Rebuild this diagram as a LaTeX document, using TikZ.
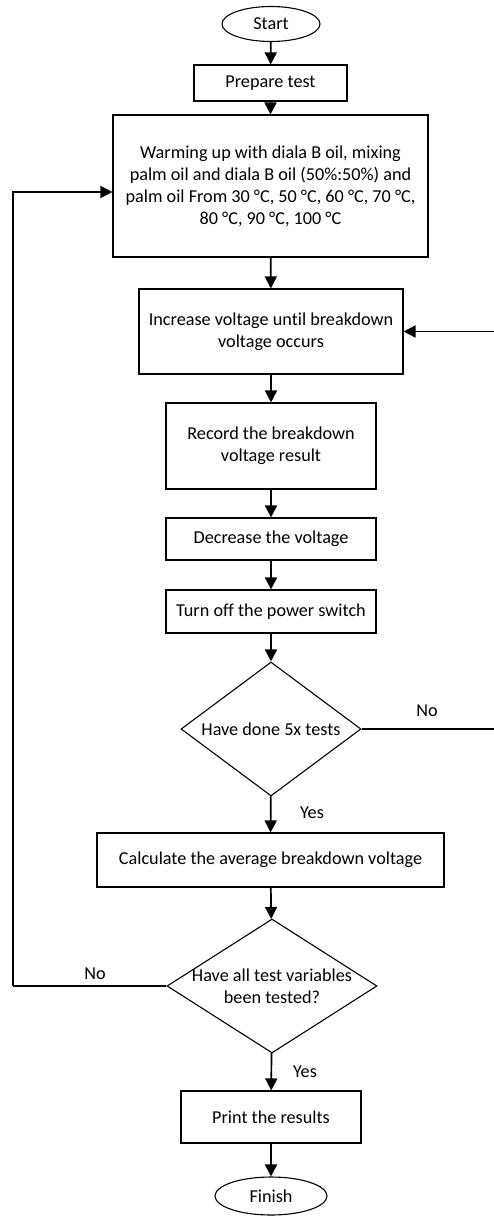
\documentclass[tikz,border=0pt]{standalone}
\usepackage{fontspec}
\setmainfont{Carlito}[Ligatures=NoCommon]
\usetikzlibrary{shapes,shapes.geometric,arrows.meta,calc}

\begin{document}
\begin{tikzpicture}[x=1pt,y=-1pt]
	\tikzstyle{every node}=[font=\fontsize{18.2}{22}\selectfont]
	\tikzstyle{proc}=[rectangle, draw, line width=1.1pt, align=center, inner sep=0pt]
	\tikzstyle{term}=[ellipse, draw, line width=1.1pt, inner sep=0pt]
	\tikzstyle{decide}=[diamond, aspect=1.34, draw, line width=1.1pt, align=center, inner sep=0pt]
	\tikzstyle{flow}=[line width=1.7pt, -{Triangle[length=12pt,width=12pt]}]
	\tikzstyle{plain}=[line width=1.3pt]
	\useasboundingbox (0,0) rectangle (493,1217);
	\node[term, minimum width=98pt, minimum height=35pt] (start) at (271,24) {Start};
	\node[proc, minimum width=153pt, minimum height=36pt] (prep) at (270.5,83) {Prepare test};
	\node[proc, minimum width=315pt, minimum height=142pt] (warm) at (270.5,186) {Warming up with diala B oil, mixing\\ palm oil and diala B oil (50\%:50\%) and\\ palm oil From 30 °C, 50 °C, 60 °C, 70 °C,\\ 80 °C, 90 °C, 100 °C};
	\node[proc, minimum width=264pt, minimum height=85pt] (incr) at (271,331.5) {Increase voltage until breakdown\\ voltage occurs};
	\node[proc, minimum width=210pt, minimum height=86pt] (rec) at (271,446) {Record the breakdown\\ voltage result};
	\node[proc, minimum width=210pt, minimum height=42pt] (decr) at (271,539) {Decrease the voltage};
	\node[proc, minimum width=210pt, minimum height=43pt] (off) at (271,611.5) {Turn off the power switch};
	\node[decide, minimum width=180pt, minimum height=134pt] (five) at (271,729) {Have done 5x tests};
	\node[proc, minimum width=347pt, minimum height=54pt] (avg) at (270.5,860) {Calculate the average breakdown voltage};
	\node[decide, aspect=1.57, inner xsep=-30pt, inner ysep=-6pt, minimum width=210pt, minimum height=134pt] (alltest) at (272,986) {Have all test variables\\ been tested?};
	\node[proc, minimum width=180pt, minimum height=52pt] (print) at (271,1117) {Print the results};
	\node[term, minimum width=112pt, minimum height=38pt] (finish) at (271,1196) {Finish};

	% answers
	\node (no5) at (427,711) {No};
	\node (yes5) at (312,813) {Yes};
	\node (noall) at (95,974) {No};
	\node (yesall) at (305,1072) {Yes};

	% loop corners
	\coordinate (rloop) at (496,729);
	\coordinate (lloop) at (13,986);

	\draw[flow] (start) -- (prep);
	\draw[flow] (prep) -- (warm);
	\draw[flow] (warm) -- (incr);
	\draw[flow] (incr) -- (rec);
	\draw[flow] (rec) -- (decr);
	\draw[flow] (decr) -- (off);
	\draw[flow] (off) -- (five);
	\draw[flow] (five) -- (avg);
	\draw[flow] (avg) -- (alltest);
	\draw[flow] (alltest) -- (print);
	\draw[flow] (print) -- (finish);
	\draw[plain] (five.east) -- (rloop);
	\draw[flow] (rloop) |- (incr.east);
	\draw[plain] (alltest.west) -- (lloop);
	\draw[flow] (lloop) |- ([yshift=-6pt]warm.west);
\end{tikzpicture}
\end{document}
